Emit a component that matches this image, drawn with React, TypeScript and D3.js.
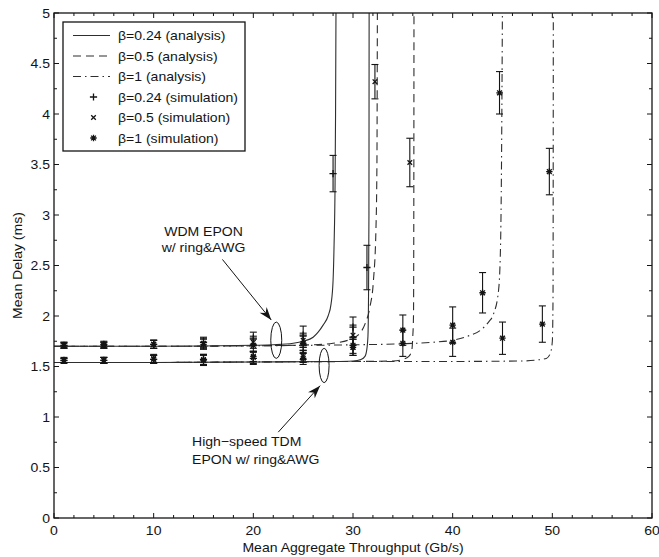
import React from 'react';
import * as d3 from 'd3';

// ---------- data ----------
const X_TICKS = [0, 10, 20, 30, 40, 50, 60];
const Y_TICKS = [0, 0.5, 1, 1.5, 2, 2.5, 3, 3.5, 4, 4.5, 5];
const Y_TICK_LABELS = ['0', '0.5', '1', '1.5', '2', '2.5', '3', '3.5', '4', '4.5', '5'];

// analysis curves — WDM EPON w/ ring&AWG (upper)
const WDM_024_X = [0, 10, 20, 22, 24, 25, 26, 26.5, 27, 27.5, 27.8, 28.0, 28.1, 28.2, 28.25, 28.3];
const WDM_024_Y = [1.70, 1.70, 1.71, 1.715, 1.73, 1.75, 1.79, 1.84, 1.91, 2.0, 2.12, 2.35, 2.7, 3.3, 4.0, 5.2];
const WDM_05_X = [0, 10, 20, 26, 28, 29.5, 30.5, 31.2, 31.7, 32.05, 32.3, 32.4, 32.45];
const WDM_05_Y = [1.70, 1.70, 1.705, 1.715, 1.73, 1.76, 1.81, 1.92, 2.09, 2.35, 2.85, 3.5, 5.2];
const WDM_1_X = [0, 10, 20, 30, 35, 38, 40, 41.5, 42.8, 43.6, 44.1, 44.6, 44.8, 44.9, 45.0];
const WDM_1_Y = [1.70, 1.70, 1.705, 1.715, 1.725, 1.74, 1.76, 1.80, 1.86, 1.94, 2.02, 2.25, 2.68, 3.5, 5.2];
// analysis curves — High-speed TDM EPON w/ ring&AWG (lower)
const TDM_024_X = [0, 10, 20, 28, 30, 30.8, 31.2, 31.4, 31.5, 31.55, 31.6, 31.62];
const TDM_024_Y = [1.54, 1.54, 1.545, 1.55, 1.555, 1.57, 1.60, 1.68, 1.80, 2.1, 3.0, 5.2];
const TDM_05_X = [0, 10, 20, 30, 34, 35, 35.6, 35.9, 36.0, 36.07, 36.1, 36.12];
const TDM_05_Y = [1.54, 1.54, 1.545, 1.55, 1.555, 1.57, 1.60, 1.66, 1.80, 2.0, 3.0, 5.2];
const TDM_1_X = [0, 10, 20, 30, 40, 47, 48.5, 49.4, 49.8, 50.0, 50.07, 50.1];
const TDM_1_Y = [1.54, 1.54, 1.545, 1.55, 1.55, 1.555, 1.565, 1.58, 1.63, 1.75, 2.2, 5.2];

// simulation points (mean, error half-width)
const SIM_WDM_024_X = [1, 5, 10, 15, 20, 25, 28];
const SIM_WDM_024_Y = [1.71, 1.72, 1.72, 1.74, 1.78, 1.81, 3.41];
const SIM_WDM_024_E = [0.03, 0.03, 0.04, 0.05, 0.06, 0.09, 0.18];
const SIM_WDM_05_X = [1, 5, 10, 15, 20, 25, 30, 32.2];
const SIM_WDM_05_Y = [1.71, 1.71, 1.72, 1.73, 1.74, 1.76, 1.81, 4.32];
const SIM_WDM_05_E = [0.03, 0.03, 0.04, 0.05, 0.06, 0.07, 0.1, 0.17];
const SIM_WDM_1_X = [1, 5, 10, 15, 20, 25, 30, 35, 40, 43, 44.7];
const SIM_WDM_1_Y = [1.71, 1.71, 1.72, 1.72, 1.71, 1.73, 1.71, 1.86, 1.91, 2.23, 4.21];
const SIM_WDM_1_E = [0.02, 0.03, 0.04, 0.05, 0.06, 0.07, 0.08, 0.15, 0.18, 0.2, 0.21];
const SIM_TDM_024_X = [1, 5, 10, 15, 20, 25, 30, 31.4];
const SIM_TDM_024_Y = [1.56, 1.56, 1.57, 1.57, 1.58, 1.63, 1.89, 2.48];
const SIM_TDM_024_E = [0.03, 0.03, 0.04, 0.05, 0.06, 0.06, 0.1, 0.22];
const SIM_TDM_05_X = [1, 5, 10, 15, 20, 25, 30, 35.7];
const SIM_TDM_05_Y = [1.56, 1.56, 1.58, 1.57, 1.59, 1.60, 1.69, 3.52];
const SIM_TDM_05_E = [0.02, 0.03, 0.04, 0.05, 0.06, 0.06, 0.08, 0.24];
const SIM_TDM_1_X = [1, 5, 10, 15, 20, 25, 30, 35, 40, 45, 49, 49.7];
const SIM_TDM_1_Y = [1.56, 1.56, 1.57, 1.56, 1.60, 1.58, 1.69, 1.73, 1.74, 1.78, 1.92, 3.43];
const SIM_TDM_1_E = [0.02, 0.03, 0.04, 0.05, 0.05, 0.06, 0.08, 0.13, 0.14, 0.16, 0.18, 0.23];

const LEGEND_LABELS = [
  'β=0.24 (analysis)',
  'β=0.5 (analysis)',
  'β=1 (analysis)',
  'β=0.24 (simulation)',
  'β=0.5 (simulation)',
  'β=1 (simulation)',
];

// ---------- layout / style ----------
const W = 659;
const H = 557;
const M = { left: 54, right: 7, top: 13, bottom: 39 };
const FONT = "'Liberation Sans', Arial, Helvetica, sans-serif";
const SX = 1.08;
const INK = '#141414';
const LINE = '#2e2e2e';
const DASH = '8,5';
const DASHDOT = '8,4,1.5,4';

type MarkerKind = 'plus' | 'cross' | 'star';

function markerPath(kind: MarkerKind): string {
  const p = 3.6;
  const c = 2.3;
  const plus = `M${-p},0H${p}M0,${-p}V${p}`;
  const cross = `M${-c},${-c}L${c},${c}M${-c},${c}L${c},${-c}`;
  if (kind === 'plus') return plus;
  if (kind === 'cross') return cross;
  const p2 = 3.2;
  const c2 = 2.4;
  return `M${-p2},0H${p2}M0,${-p2}V${p2}M${-c2},${-c2}L${c2},${c2}M${-c2},${c2}L${c2},${-c2}`;
}

function T(props: {
  x: number; y: number; children: React.ReactNode; anchor?: string; size?: number; rotate?: number;
}) {
  const { x, y, children, anchor = 'start', size = 13, rotate = 0 } = props;
  return (
    <text
      transform={`translate(${x},${y})${rotate ? ` rotate(${rotate})` : ''} scale(${SX},1)`}
      textAnchor={anchor}
      fontFamily={FONT}
      fontSize={size}
      fill={INK}
    >
      {children}
    </text>
  );
}

export default function App() {
  const x = d3.scaleLinear().domain([0, 60]).range([M.left, W - M.right]);
  const y = d3.scaleLinear().domain([0, 5]).range([H - M.bottom, M.top]);
  const [x0, x1] = x.range();
  const [yb, yt] = y.range();

  const line = d3
    .line<[number, number]>()
    .x((d) => x(d[0]))
    .y((d) => y(d[1]))
    .curve(d3.curveMonotoneX);

  const zip = (xs: number[], ys: number[]) => xs.map((v, i) => [v, ys[i]] as [number, number]);

  const curves = [
    { xs: WDM_024_X, ys: WDM_024_Y, dash: undefined },
    { xs: TDM_024_X, ys: TDM_024_Y, dash: undefined },
    { xs: WDM_05_X, ys: WDM_05_Y, dash: DASH },
    { xs: TDM_05_X, ys: TDM_05_Y, dash: DASH },
    { xs: WDM_1_X, ys: WDM_1_Y, dash: DASHDOT },
    { xs: TDM_1_X, ys: TDM_1_Y, dash: DASHDOT },
  ];

  const sims: { xs: number[]; ys: number[]; es: number[]; kind: MarkerKind }[] = [
    { xs: SIM_WDM_024_X, ys: SIM_WDM_024_Y, es: SIM_WDM_024_E, kind: 'plus' },
    { xs: SIM_TDM_024_X, ys: SIM_TDM_024_Y, es: SIM_TDM_024_E, kind: 'plus' },
    { xs: SIM_WDM_05_X, ys: SIM_WDM_05_Y, es: SIM_WDM_05_E, kind: 'cross' },
    { xs: SIM_TDM_05_X, ys: SIM_TDM_05_Y, es: SIM_TDM_05_E, kind: 'cross' },
    { xs: SIM_WDM_1_X, ys: SIM_WDM_1_Y, es: SIM_WDM_1_E, kind: 'star' },
    { xs: SIM_TDM_1_X, ys: SIM_TDM_1_Y, es: SIM_TDM_1_E, kind: 'star' },
  ];

  const xMinor = d3.range(0, 60.001, 2).filter((v) => !X_TICKS.includes(v));
  const yMinor = d3.range(0.25, 5, 0.5);
  const MAJ = 5;
  const MIN = 3;

  // annotations (data coordinates)
  const ellUpper = { cx: 22.3, cy: 1.76, rx: 0.55, ry: 0.18 };
  const ellLower = { cx: 27.1, cy: 1.51, rx: 0.5, ry: 0.17 };
  const arrUpper = { from: [16.9, 2.56], to: [21.8, 1.96] };
  const arrLower = { from: [22.5, 0.85], to: [26.7, 1.31] };

  const arrowHead = (fx: number, fy: number, tx: number, ty: number) => {
    const ang = Math.atan2(ty - fy, tx - fx);
    const L = 13;
    const Wd = 4.5;
    const notch = 9;
    const pts = [
      [0, 0],
      [-L, -Wd],
      [-notch, 0],
      [-L, Wd],
    ].map(([a, b]) => [tx + a * Math.cos(ang) - b * Math.sin(ang), ty + a * Math.sin(ang) + b * Math.cos(ang)]);
    return `M${pts.map((p) => p.join(',')).join('L')}Z`;
  };

  const arrow = (a: { from: number[]; to: number[] }) => {
    const fx = x(a.from[0]);
    const fy = y(a.from[1]);
    const tx = x(a.to[0]);
    const ty = y(a.to[1]);
    return (
      <g>
        <line x1={fx} y1={fy} x2={tx} y2={ty} stroke={INK} strokeWidth={1} />
        <path d={arrowHead(fx, fy, tx, ty)} fill={INK} />
      </g>
    );
  };

  // legend
  const lg = { x: 63, y: 22, w: 182, h: 129, row0: 35.5, dy: 20.5, l0: 73, l1: 110, tx: 118 };
  const legendItems: { dash?: string; line: boolean; kind?: MarkerKind }[] = [
    { line: true },
    { line: true, dash: DASH },
    { line: true, dash: DASHDOT },
    { line: false, kind: 'plus' },
    { line: false, kind: 'cross' },
    { line: false, kind: 'star' },
  ];

  return (
    <svg
      width={W}
      height={H}
      style={{ position: 'absolute', left: 0, top: 0, background: '#fff' }}
    >
      <defs>
        <clipPath id="plot">
          <rect x={x0} y={yt} width={x1 - x0} height={yb - yt} />
        </clipPath>
      </defs>
      <rect x={0} y={0} width={W} height={H} fill="#fff" />

      {/* ticks */}
      <g stroke={INK} strokeWidth={1}>
        {X_TICKS.map((v) => (
          <g key={`xt${v}`}>
            <line x1={x(v)} x2={x(v)} y1={yb} y2={yb - MAJ} />
            <line x1={x(v)} x2={x(v)} y1={yt} y2={yt + MAJ} />
          </g>
        ))}
        {xMinor.map((v) => (
          <g key={`xm${v}`}>
            <line x1={x(v)} x2={x(v)} y1={yb} y2={yb - MIN} />
            <line x1={x(v)} x2={x(v)} y1={yt} y2={yt + MIN} />
          </g>
        ))}
        {Y_TICKS.map((v) => (
          <g key={`yt${v}`}>
            <line x1={x0} x2={x0 + MAJ} y1={y(v)} y2={y(v)} />
            <line x1={x1} x2={x1 - MAJ} y1={y(v)} y2={y(v)} />
          </g>
        ))}
        {yMinor.map((v) => (
          <g key={`ym${v}`}>
            <line x1={x0} x2={x0 + MIN} y1={y(v)} y2={y(v)} />
            <line x1={x1} x2={x1 - MIN} y1={y(v)} y2={y(v)} />
          </g>
        ))}
      </g>

      {/* curves */}
      <g clipPath="url(#plot)" fill="none">
        {curves.map((c, i) => (
          <path
            key={`c${i}`}
            d={line(zip(c.xs, c.ys)) || ''}
            stroke={LINE}
            strokeWidth={1.1}
            strokeDasharray={c.dash}
          />
        ))}
      </g>

      {/* simulation error bars + markers */}
      <g clipPath="url(#plot)" stroke={INK} fill="none">
        {sims.map((s, si) =>
          s.xs.map((xv, i) => {
            const px = x(xv);
            const py = y(s.ys[i]);
            const top = y(s.ys[i] + s.es[i]);
            const bot = y(s.ys[i] - s.es[i]);
            return (
              <g key={`s${si}-${i}`}>
                <line x1={px} x2={px} y1={top} y2={bot} strokeWidth={1.1} />
                <line x1={px - 3.5} x2={px + 3.5} y1={top} y2={top} strokeWidth={1.1} />
                <line x1={px - 3.5} x2={px + 3.5} y1={bot} y2={bot} strokeWidth={1.1} />
                <path d={markerPath(s.kind)} transform={`translate(${px},${py})`} strokeWidth={1.3} />
              </g>
            );
          })
        )}
      </g>

      {/* annotations */}
      <g fill="none" stroke={INK} strokeWidth={1}>
        {[ellUpper, ellLower].map((e, i) => (
          <ellipse
            key={`e${i}`}
            cx={x(e.cx)}
            cy={y(e.cy)}
            rx={x(e.cx + e.rx) - x(e.cx)}
            ry={y(e.cy - e.ry) - y(e.cy)}
          />
        ))}
      </g>
      {arrow(arrUpper)}
      {arrow(arrLower)}
      <T x={x(15.0)} y={y(2.79)} anchor="middle">WDM EPON</T>
      <T x={x(15.0)} y={y(2.63)} anchor="middle">w/ ring&amp;AWG</T>
      <T x={x(13.85)} y={y(0.71)}>High−speed TDM</T>
      <T x={x(13.85)} y={y(0.53)}>EPON w/ ring&amp;AWG</T>

      {/* frame */}
      <rect x={x0} y={yt} width={x1 - x0} height={yb - yt} fill="none" stroke={INK} strokeWidth={1.3} />

      {/* tick labels */}
      {X_TICKS.map((v) => (
        <T key={`xl${v}`} x={x(v)} y={yb + 17} anchor="middle">
          {String(v)}
        </T>
      ))}
      {Y_TICKS.map((v, i) => (
        <T key={`yl${v}`} x={x0 - 4} y={y(v) + 4.5} anchor="end">
          {Y_TICK_LABELS[i]}
        </T>
      ))}

      {/* axis titles */}
      <T x={(x0 + x1) / 2} y={H - 5} anchor="middle">Mean Aggregate Throughput (Gb/s)</T>
      <T x={22} y={(yt + yb) / 2} anchor="middle" rotate={-90}>Mean Delay (ms)</T>

      {/* legend */}
      <rect x={lg.x} y={lg.y} width={lg.w} height={lg.h} fill="#fff" stroke={INK} strokeWidth={1.3} />
      {legendItems.map((it, i) => {
        const ry = lg.row0 + i * lg.dy;
        return (
          <g key={`lg${i}`}>
            {it.line ? (
              <line x1={lg.l0} x2={lg.l1} y1={ry} y2={ry} stroke={LINE} strokeWidth={1.1} strokeDasharray={it.dash} />
            ) : (
              <path
                d={markerPath(it.kind as MarkerKind)}
                transform={`translate(${(lg.l0 + lg.l1) / 2 + 2},${ry})`}
                stroke={INK}
                strokeWidth={1.3}
                fill="none"
              />
            )}
            <T x={lg.tx} y={ry + 4.5}>{LEGEND_LABELS[i]}</T>
          </g>
        );
      })}
    </svg>
  );
}
